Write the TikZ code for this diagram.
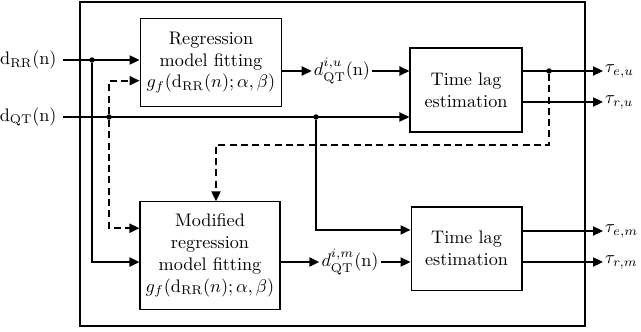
\documentclass[tikz,border=0pt]{standalone}
\usetikzlibrary{arrows.meta}
\tikzset{
  blk/.style={draw, line width=0.6pt, align=center, inner sep=2pt},
  lbl/.style={inner sep=1pt},
  wire/.style={line width=1pt},
  sig/.style={wire, -{Triangle[length=5.5pt,width=5pt]}},
  fb/.style={sig, dash pattern=on 3.8pt off 2.4pt},
  jn/.style={circle, fill, inner sep=0pt, minimum size=3pt}
}
\begin{document}
\begin{tikzpicture}[x=0.55pt,y=-0.55pt]
  \useasboundingbox (0,0) rectangle (641,331);
  \draw[line width=0.8pt] (80,2) rectangle (585,326);

  % blocks
  \node[blk, minimum width=78pt, minimum height=48pt] (reg) at (211,62.5)
    {Regression\\model fitting\\$g_f(\mathrm{d}_{\mathrm{RR}}(n);\alpha,\beta)$};
  \node[blk, minimum width=77pt, minimum height=59pt] (modreg) at (210,255.5)
    {Modified\\regression\\model fitting\\$g_f(\mathrm{d}_{\mathrm{RR}}(n);\alpha,\beta)$};
  \node[blk, minimum width=61.6pt, minimum height=46.2pt] (tlu) at (466,90) {Time lag\\estimation};
  \node[blk, minimum width=61pt, minimum height=45.7pt] (tlm) at (466.5,248.5) {Time lag\\estimation};

  % signals
  \node[anchor=east] (inRR) at (63,60) {$\mathrm{d}_{\mathrm{RR}}(\mathrm{n})$};
  \node[anchor=east] (inQT) at (63,117) {$\mathrm{d}_{\mathrm{QT}}(\mathrm{n})$};
  \node[lbl] (du) at (342,71) {$d^{i,u}_{\mathrm{QT}}(\mathrm{n})$};
  \node[lbl] (dm) at (350,262) {$d^{i,m}_{\mathrm{QT}}(\mathrm{n})$};
  \node[lbl, anchor=west] (teu) at (603,71) {$\tau_{e,u}$};
  \node[lbl, anchor=west] (tru) at (603,102) {$\tau_{r,u}$};
  \node[lbl, anchor=west] (tem) at (603,231) {$\tau_{e,m}$};
  \node[lbl, anchor=west] (trm) at (603,262) {$\tau_{r,m}$};

  % junctions
  \node[jn] (jRR) at (92,60) {};
  \node[jn] (jQT) at (109,117) {};
  \node[jn] (jQTm) at (316,117) {};
  \node[jn] (jfb) at (549,71) {};
  \coordinate (fbturn) at (549,145);

  \draw[sig] (inRR.east) -- (reg.west |- inRR.east);
  \draw[sig] (inQT.east) -- (tlu.west |- inQT.east);
  \draw[sig] (reg.east |- du.west) -- (du.west);
  \draw[sig] (du.east) -- (tlu.west |- du.east);
  \draw[fb] (jQT) |- ([yshift=-10pt]reg.west);
  \draw[fb] (jQT) |- ([yshift=15pt]modreg.west);
  \draw[sig] (jRR) |- ([yshift=-3.6pt]modreg.west);
  \draw[sig] (modreg.east |- dm.west) -- (dm.west);
  \draw[sig] (dm.east) -- (tlm.west |- dm.east);
  \draw[sig] (jQTm) |- ([yshift=10.2pt]tlm.west);
  \draw[fb] (jfb) -- (fbturn) -| ([xshift=3.3pt]modreg.north);

  \draw[sig] (tlu.east |- teu.west) -- (teu.west);
  \draw[sig] (tlu.east |- tru.west) -- (tru.west);
  \draw[sig] (tlm.east |- tem.west) -- (tem.west);
  \draw[sig] (tlm.east |- trm.west) -- (trm.west);
\end{tikzpicture}
\end{document}
